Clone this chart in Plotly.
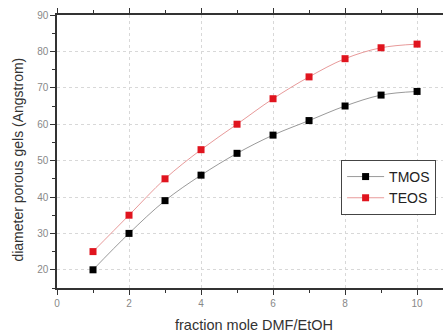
import plotly.graph_objects as go

x_vals = [1, 2, 3, 4, 5, 6, 7, 8, 9, 10]
tmos = [20, 30, 39, 46, 52, 57, 61, 65, 68, 69]
teos = [25, 35, 45, 53, 60, 67, 73, 78, 81, 82]
x_title = "fraction mole DMF/EtOH"
y_title = "diameter porous gels (Angstrom)"

fig = go.Figure()
fig.add_trace(go.Scatter(x=x_vals, y=tmos, name="TMOS", mode="lines+markers",
                         line=dict(color="#9a9a9a", width=1, shape="spline"),
                         marker=dict(symbol="square", size=7, color="#000000")))
fig.add_trace(go.Scatter(x=x_vals, y=teos, name="TEOS", mode="lines+markers",
                         line=dict(color="#e89a9a", width=1, shape="spline"),
                         marker=dict(symbol="square", size=7, color="#e0141e")))

axis_common = dict(showline=True, linecolor="#333333", linewidth=1.5, mirror="ticks",
                   ticks="outside", ticklen=5, tickcolor="#333333", tickwidth=1.2,
                   showgrid=True, gridcolor="#d8d8d8", griddash="dot", gridwidth=1,
                   zeroline=False, automargin=False,
                   tickfont=dict(family="Liberation Sans, Arial", size=10, color="#888888"),
                   minor=dict(ticks="outside", ticklen=3, tickcolor="#333333", showgrid=False))

fig.update_xaxes(range=[0, 10.72], tick0=0, dtick=2, minor_dtick=1, **axis_common)
fig.update_yaxes(range=[15, 90], tick0=20, dtick=10, minor_dtick=5, **axis_common)

fig.add_annotation(text=x_title, xref="paper", yref="paper", x=0.51, y=-0.135,
                   xanchor="center", yanchor="middle", showarrow=False,
                   font=dict(family="Liberation Sans, Arial", size=14.5, color="#333333"))
fig.add_annotation(text=y_title, xref="paper", yref="paper", x=-0.102, y=0.469,
                   xanchor="center", yanchor="middle", showarrow=False, textangle=-90,
                   font=dict(family="Liberation Sans, Arial", size=14, color="#333333"))

fig.update_layout(width=443, height=332,
                  margin=dict(l=57, r=0, t=15, b=44, autoexpand=False),
                  paper_bgcolor="white", plot_bgcolor="white",
                  legend=dict(x=0.736, y=0.469, xanchor="left", yanchor="top",
                              bordercolor="#444444", borderwidth=1, bgcolor="white",
                              font=dict(family="Liberation Sans, Arial", size=14, color="#222222"),
                              itemwidth=37, tracegroupgap=0))

fig.write_html("out.html", config={"displayModeBar": False},
               post_script="document.body.style.margin='0';document.body.style.padding='0';")
